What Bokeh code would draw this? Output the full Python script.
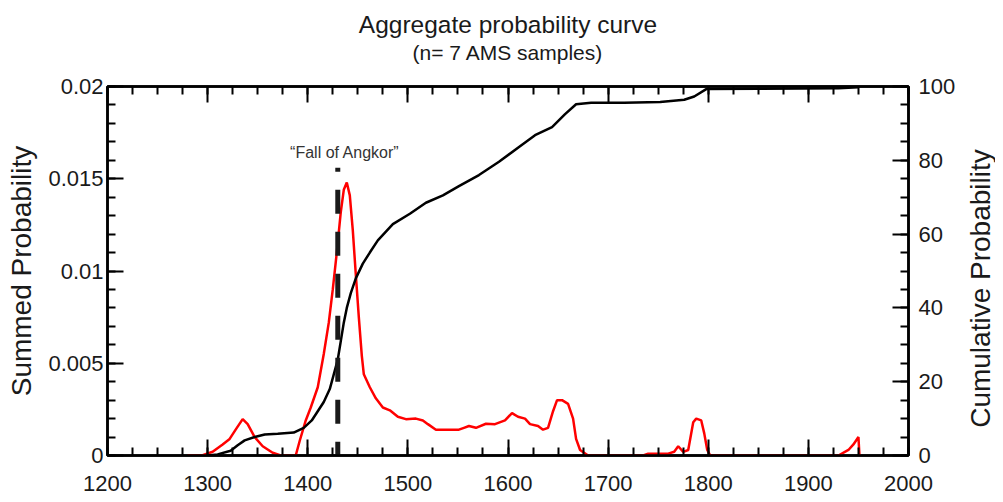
import math
from bokeh.plotting import figure
from bokeh.layouts import row
from bokeh.models import (Range1d, LinearAxis, SingleIntervalTicker, Label, Title,
                          CustomJSTickFormatter)
from bokeh.embed import file_html
from bokeh.resources import INLINE

# ---------------- data ----------------
years_sum = [1280, 1295, 1305, 1315, 1322, 1328, 1335, 1340, 1347, 1355, 1365, 1373,
             1388, 1392, 1398, 1403, 1410, 1416, 1421, 1425, 1429, 1433, 1436, 1439,
             1442, 1445, 1448, 1451, 1454, 1456, 1462, 1468, 1475, 1482, 1490, 1498,
             1508, 1515, 1520, 1528, 1551, 1556, 1561, 1568, 1578, 1587, 1597, 1604,
             1610, 1617, 1622, 1630, 1635, 1640, 1645, 1649, 1654, 1660, 1665, 1668,
             1672, 1680, 1735, 1740, 1750, 1760, 1766, 1770, 1775, 1780, 1785, 1788,
             1793, 1796, 1799, 1802, 1930, 1940, 1945, 1950, 1951]
summed_prob = [0.0, 0.00002, 0.0002, 0.0006, 0.0009, 0.0014, 0.00197, 0.0017, 0.001,
               0.0005, 0.00015, 0.0, 0.0, 0.0008, 0.0019, 0.0026, 0.0037, 0.0055,
               0.0072, 0.009, 0.011, 0.0132, 0.0144, 0.0148, 0.0141, 0.0122, 0.0098,
               0.0075, 0.0054, 0.0044, 0.0037, 0.0031, 0.0026, 0.00245, 0.0021,
               0.00197, 0.002, 0.0019, 0.0017, 0.0014, 0.0014, 0.0015, 0.0016, 0.0015,
               0.00172, 0.0017, 0.0019, 0.0023, 0.0021, 0.002, 0.0017, 0.0016, 0.0014,
               0.0015, 0.0024, 0.0030, 0.0030, 0.0028, 0.002, 0.0009, 0.0003, 0.0,
               0.0, 0.0001, 0.0001, 0.0001, 0.0002, 0.0005, 0.0002, 0.0003, 0.0018,
               0.0020, 0.0019, 0.0012, 0.0003, 0.0, 0.0, 0.0003, 0.0006, 0.001, 0.0]

years_cum = [1300, 1310, 1323, 1330, 1337, 1347, 1357, 1370, 1386, 1396, 1404, 1410,
             1416, 1422, 1426, 1430, 1433, 1436, 1439, 1443, 1448, 1455, 1462, 1470,
             1485, 1502, 1518, 1535, 1551, 1571, 1591, 1611, 1627, 1644, 1657, 1668,
             1683, 1716, 1752, 1776, 1786, 1798, 1850, 1930, 1950]
cum_prob = [0, 0.3, 1.3, 2.8, 4.1, 5.0, 5.7, 5.9, 6.2, 7.5, 9.5, 12, 14.5, 18, 22, 26,
            31, 36, 40, 44, 48, 52, 55, 58.3, 62.7, 65.5, 68.5, 70.5, 73, 76, 79.6,
            83.6, 86.8, 89, 92.5, 95.2, 95.6, 95.6, 95.8, 96.4, 97.3, 99.3, 99.4, 99.5,
            99.8]

event_year = 1430
event_top = 0.0156
event_label = "\u201cFall of Angkor\u201d"

title_text = "Aggregate probability curve"
subtitle_text = "(n= 7 AMS samples)"
left_label = "Summed Probability"
right_label = "Cumulative Probability"

FONT = "Liberation Sans"
TXT = "#1a1a1a"

H = 494
TOP, BOTTOM = 86, 39

p = figure(width=958, height=H, output_backend="svg", toolbar_location=None,
           title=None, x_range=Range1d(1200, 2000), y_range=Range1d(0, 0.02),
           min_border_left=107, min_border_right=48, min_border_top=TOP,
           min_border_bottom=BOTTOM)
p.extra_y_ranges = {"cum": Range1d(0, 100)}
p.xgrid.visible = False
p.ygrid.visible = False
p.outline_line_color = "black"
p.outline_line_width = 2.5
p.background_fill_color = "white"
p.border_fill_color = "white"


def style(ax):
    ax.axis_line_color = "black"
    ax.axis_line_width = 2.5
    ax.major_tick_in = 16
    ax.major_tick_out = 0
    ax.minor_tick_in = 8
    ax.minor_tick_out = 0
    ax.major_tick_line_color = "black"
    ax.minor_tick_line_color = "black"
    ax.major_tick_line_width = 2
    ax.minor_tick_line_width = 2
    ax.major_label_text_font = FONT
    ax.major_label_text_font_size = "22px"
    ax.major_label_text_color = TXT
    ax.major_label_standoff = 5
    ax.axis_label_text_font = FONT
    ax.axis_label_text_font_style = "normal"
    ax.axis_label_text_font_size = "28px"
    ax.axis_label_text_color = TXT


# bottom axis
xax = p.xaxis[0]
xax.ticker = SingleIntervalTicker(interval=100, num_minor_ticks=4)
style(xax)
xax.major_label_standoff = 20

# left axis
yax = p.yaxis[0]
yax.ticker = SingleIntervalTicker(interval=0.005, num_minor_ticks=5)
yax.formatter = CustomJSTickFormatter(code="return Number(tick.toFixed(3)).toString();")
style(yax)
yax.major_label_standoff = 4
yax.axis_label = left_label
yax.axis_label_standoff = 8

# top axis: ticks only, carries the subtitle as its label
top_ax = LinearAxis(ticker=SingleIntervalTicker(interval=100, num_minor_ticks=4),
                    formatter=CustomJSTickFormatter(code="return '';"))
style(top_ax)
top_ax.major_label_standoff = 0
top_ax.axis_label = subtitle_text
top_ax.axis_label_text_font_size = "21px"
top_ax.axis_label_standoff = 23
p.add_layout(top_ax, "above")

# right axis (ticks and numbers)
rax = LinearAxis(y_range_name="cum",
                 ticker=SingleIntervalTicker(interval=20, num_minor_ticks=4))
style(rax)
rax.major_label_standoff = 10
p.add_layout(rax, "right")

# main title
p.add_layout(Title(text=title_text, align="center", text_font=FONT,
                   text_font_size="24.5px", text_font_style="normal",
                   text_color=TXT, standoff=0), "above")

# data lines
p.line(years_sum, summed_prob, line_color="#ff0000", line_width=2.5)
p.line(years_cum, cum_prob, y_range_name="cum", line_color="black", line_width=2.5)

# event marker
p.segment(x0=[event_year], y0=[event_top], x1=[event_year], y1=[0],
          line_color="#1a1a1a", line_width=5, line_dash="24 18",
          line_dash_offset=20)
p.add_layout(Label(x=1437, y=0.01643, text=event_label, text_align="center",
                   text_baseline="middle", text_font=FONT, text_font_size="16px",
                   text_color="#333333"))

# narrow strip to the right holding the right-hand axis title, reading upward
W2 = 37
p2 = figure(width=W2, height=H, output_backend="svg", toolbar_location=None,
            title=None, x_range=Range1d(0, W2), y_range=Range1d(0, H),
            min_border=0, x_axis_location=None, y_axis_location=None)
p2.xgrid.visible = False
p2.ygrid.visible = False
p2.outline_line_color = None
p2.background_fill_color = "white"
p2.border_fill_color = "white"
frame_mid = H - (TOP + (H - TOP - BOTTOM) / 2)
p2.add_layout(Label(x=22, y=frame_mid, text=right_label, angle=math.pi / 2,
                    text_align="center", text_baseline="middle", text_font=FONT,
                    text_font_size="28px", text_color=TXT))

layout = row(p, p2, spacing=0)
open("out.html", "w").write(file_html(layout, INLINE))
